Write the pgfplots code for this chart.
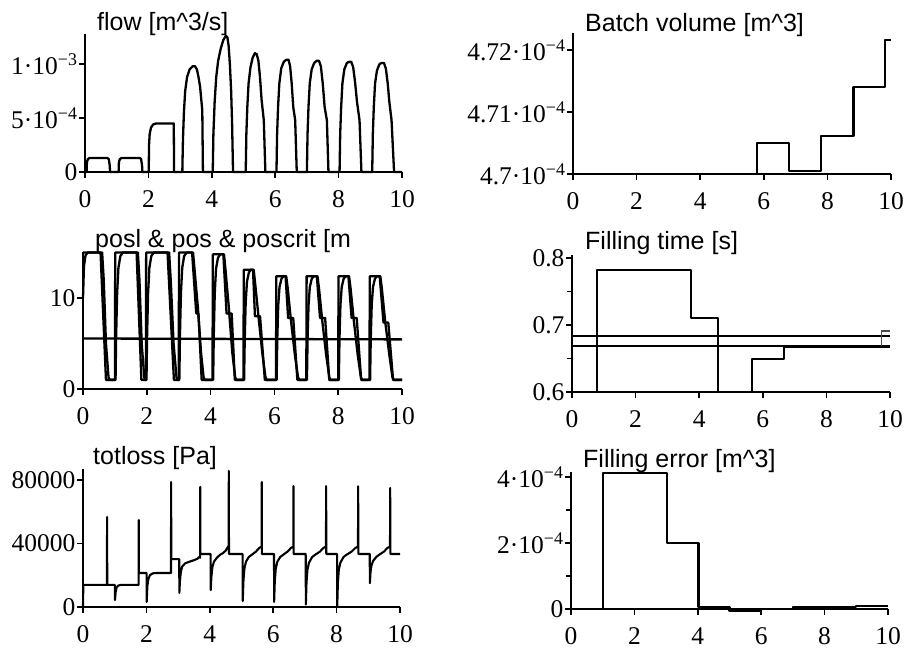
\documentclass[border=0pt]{standalone}
\usepackage{fontspec}
\setmainfont{Liberation Serif}
\newfontfamily\helv{Liberation Sans}
\usepackage{pgfplots}
\pgfplotsset{compat=1.18}
\newcommand{\tf}{\helv\fontsize{25}{25}\selectfont}
\newcommand{\ex}[1]{\textsuperscript{#1}}
\begin{document}
\begin{tikzpicture}
\useasboundingbox (0pt,0pt) rectangle (907pt,652pt);
\pgfplotsset{
 every axis/.append style={
  scale only axis, axis lines=left, axis line style={-, line width=1.6pt},
  clip=false, xmin=0, xmax=10, xtick={0,2,...,10},
  tick align=outside, major tick length=6pt, minor tick length=5pt,
  every tick/.style={black, line width=1.5pt},
  tick label style={font=\fontsize{25.5}{25.5}\selectfont},
  xticklabel style={yshift=-9pt},
  yticklabel style={xshift=2pt},
  /pgf/number format/assume math mode=true,
  scaled y ticks=false,
 },
 dat/.style={black, line width=2.3pt, line join=round, no markers},
}
% ---------------- flow
\begin{axis}[at={(85pt,480pt)}, anchor=south west, width=317pt, height=138.2pt,
  ymin=0, ymax=1.28e-3, ytick={0,5e-4,1e-3},
  yticklabels={0, 5·10\ex{−4}, 1·10\ex{−3}}]
\addplot[dat] coordinates {
(0,0) (0.05,0) (0.06,0.9e-4) (0.09,1.2e-4) (0.15,1.3e-4) (0.7,1.3e-4) (0.75,1.2e-4) (0.78,0.6e-4) (0.79,0)
(1.06,0) (1.07,0.9e-4) (1.1,1.2e-4) (1.16,1.3e-4) (1.72,1.3e-4) (1.77,1.2e-4) (1.8,0.6e-4) (1.81,0)
(2.01,0) (2.02,2.5e-4) (2.04,3.5e-4) (2.08,4.1e-4) (2.15,4.4e-4) (2.25,4.5e-4) (2.8,4.5e-4) (2.81,0)
(3.07,0) (3.09,3e-4) (3.12,5.5e-4) (3.16,7.5e-4) (3.22,8.8e-4) (3.3,9.5e-4) (3.4,9.8e-4) (3.47,9.8e-4) (3.53,9.5e-4) (3.58,8.8e-4) (3.63,7.9e-4) (3.70,5.7e-4) (3.72,0)
(4.03,0) (4.05,3.5e-4) (4.09,6.5e-4) (4.14,8.8e-4) (4.2,1.03e-3) (4.28,1.14e-3) (4.36,1.22e-3) (4.44,1.26e-3) (4.49,1.25e-3) (4.53,1.17e-3) (4.57,1.0e-3) (4.61,7.5e-4) (4.64,4.5e-4) (4.67,0)
(5.07,0) (5.09,3.5e-4) (5.12,6.0e-4) (5.16,8.2e-4) (5.22,9.7e-4) (5.29,1.06e-3) (5.36,1.10e-3) (5.42,1.09e-3) (5.47,1.03e-3) (5.52,8.8e-4) (5.57,6.7e-4) (5.64,4.8e-4) (5.69,0)
(6.04,0) (6.06,3.5e-4) (6.09,6.0e-4) (6.13,8.2e-4) (6.19,9.6e-4) (6.27,1.02e-3) (6.35,1.04e-3) (6.42,1.04e-3) (6.47,9.8e-4) (6.52,8.2e-4) (6.57,6.0e-4) (6.63,4.8e-4) (6.68,0)
(7.0,0) (7.02,3.5e-4) (7.05,6.0e-4) (7.09,8.2e-4) (7.15,9.5e-4) (7.23,1.01e-3) (7.31,1.03e-3) (7.38,1.03e-3) (7.44,9.8e-4) (7.5,8.2e-4) (7.56,6.0e-4) (7.63,4.8e-4) (7.68,0)
(8.03,0) (8.05,3.5e-4) (8.08,6.0e-4) (8.12,8.2e-4) (8.18,9.5e-4) (8.26,1.01e-3) (8.33,1.02e-3) (8.4,1.02e-3) (8.46,9.7e-4) (8.52,8.3e-4) (8.58,6.5e-4) (8.66,4.8e-4) (8.72,0)
(9.06,0) (9.08,3.5e-4) (9.11,6.0e-4) (9.15,8.2e-4) (9.21,9.4e-4) (9.29,1.0e-3) (9.36,1.01e-3) (9.43,1.01e-3) (9.49,9.6e-4) (9.55,8.2e-4) (9.6,6.5e-4) (9.67,4.8e-4) (9.75,0) (10,0)
};
\end{axis}
% ---------------- positions
\begin{axis}[at={(83pt,263pt)}, anchor=south west, width=319pt, height=137.4pt,
  ymin=0, ymax=15.1, ytick={0,10}, yticklabels={0,10}]
\addplot[dat] coordinates { % posl
(0,15) (0.55,15) (0.72,1) (1.0,1) (1.01,15) (1.68,15) (1.83,1) (1.97,1) (1.98,15) (2.65,15) (2.85,1) (3.0,1)
(3.01,15) (3.42,15) (3.55,8.3) (3.62,8.3) (3.72,1) (4.06,1) (4.07,14.8) (4.4,14.8) (4.5,8.3) (4.66,8.3) (4.76,1)
(5.03,1) (5.04,13.1) (5.33,13.1) (5.39,8.0) (5.55,8.0) (5.7,1) (6.05,1) (6.06,12.4) (6.35,12.4) (6.43,7.8) (6.59,7.8) (6.72,1)
(7.0,1) (7.01,12.4) (7.33,12.4) (7.43,7.8) (7.59,7.8) (7.72,1) (8.0,1) (8.01,12.4) (8.32,12.4) (8.42,7.8) (8.58,7.8) (8.72,1)
(8.98,1) (8.99,12.4) (9.3,12.4) (9.42,7.3) (9.57,7.3) (9.72,1) (10,1)
};
\addplot[dat] coordinates { % pos
(0,10) (0.03,13.5) (0.08,14.7) (0.15,15) (0.6,15) (0.65,12) (0.72,5) (0.8,1.3) (0.84,1) (1.02,1) (1.04,6) (1.07,10.5) (1.11,13.3) (1.17,14.6) (1.25,15)
(1.72,15) (1.77,12) (1.84,5) (1.92,1.3) (1.95,1) (1.99,1) (2.01,6) (2.04,10.5) (2.08,13.3) (2.14,14.6) (2.22,15)
(2.7,15) (2.75,12) (2.84,5) (2.93,1.3) (2.97,1) (3.02,1) (3.04,6) (3.07,10.5) (3.11,13.3) (3.17,14.6) (3.25,15)
(3.45,15) (3.5,13) (3.6,9) (3.7,4) (3.78,1.3) (3.82,1) (4.08,1) (4.1,6) (4.13,10.5) (4.17,13.2) (4.23,14.4) (4.3,14.8)
(4.42,14.8) (4.47,13) (4.57,9) (4.68,4) (4.77,1.3) (4.81,1) (5.05,1) (5.07,5.5) (5.1,9.5) (5.14,11.8) (5.2,12.8) (5.26,13.1)
(5.35,13.1) (5.4,11.5) (5.5,8) (5.62,4) (5.72,1.3) (5.76,1) (6.07,1) (6.09,5.5) (6.12,9.2) (6.16,11.2) (6.22,12.1) (6.28,12.4)
(6.37,12.4) (6.42,11) (6.52,7.5) (6.64,3.8) (6.74,1.3) (6.78,1) (7.02,1) (7.04,5.5) (7.07,9.2) (7.11,11.2) (7.17,12.1) (7.23,12.4)
(7.35,12.4) (7.4,11) (7.5,7.5) (7.62,3.8) (7.72,1.3) (7.76,1) (8.02,1) (8.04,5.5) (8.07,9.2) (8.11,11.2) (8.17,12.1) (8.23,12.4)
(8.34,12.4) (8.39,11) (8.49,7.5) (8.61,3.8) (8.71,1.3) (8.75,1) (9.0,1) (9.02,5.5) (9.05,9.2) (9.09,11.2) (9.15,12.1) (9.21,12.4)
(9.32,12.4) (9.37,11) (9.47,7.5) (9.6,3.8) (9.7,1.3) (9.74,1) (10,1)
};
\addplot[dat] coordinates { % poscrit
(0,5.55) (10,5.45)
};
\end{axis}
% ---------------- totloss
\begin{axis}[at={(83pt,45pt)}, anchor=south west, width=317pt, height=138.1pt,
  ymin=0, ymax=87000, ytick={0,40000,80000}, yticklabels={0,40000,80000}]
\addplot[dat, line width=2.1pt] coordinates {
(0,0) (0.01,13900) (0.755,13900) (0.76,56700) (0.765,13900) (1.005,13900) (1.01,4400) (1.03,9500) (1.06,12300) (1.11,13500) (1.2,13900)
(1.755,13900) (1.76,54800) (1.765,21400) (2.005,21400) (2.01,3200) (2.03,13000) (2.06,17500) (2.11,20000) (2.2,21200) (2.3,21400)
(2.775,21400) (2.78,78700) (2.785,30200) (3.035,30200) (3.04,8900) (3.06,17000) (3.09,22500) (3.13,25500) (3.22,27500) (3.35,28500) (3.5,29500) (3.62,30500) (3.66,31500) (3.695,31000)
(3.70,75600) (3.705,33400) (4.025,33400) (4.03,10700) (4.05,19000) (4.08,25000) (4.13,28500) (4.22,31000) (4.33,33000) (4.42,34000) (4.5,35500) (4.56,37500) (4.595,38500)
(4.60,85700) (4.605,33400) (5.035,33400) (5.04,3800) (5.06,16000) (5.09,24000) (5.14,28500) (5.23,31500) (5.33,33000) (5.46,35000) (5.56,37200) (5.635,38000)
(5.64,78700) (5.645,33400) (6.025,33400) (6.03,3200) (6.05,16000) (6.08,24000) (6.13,28500) (6.22,31500) (6.32,33000) (6.46,35000) (6.56,37200) (6.635,38000)
(6.64,76200) (6.645,33400) (7.025,33400) (7.03,1600) (7.05,15000) (7.08,23500) (7.13,28000) (7.23,31500) (7.33,33000) (7.48,35000) (7.58,37200) (7.665,38000)
(7.67,76200) (7.675,33400) (8.015,33400) (8.02,0) (8.04,15000) (8.07,23500) (8.12,28000) (8.22,31500) (8.32,33000) (8.48,35000) (8.59,37200) (8.675,38000)
(8.68,76000) (8.685,33400) (9.045,33400) (9.05,15000) (9.07,22000) (9.1,26000) (9.15,29000) (9.25,31500) (9.35,33000) (9.5,35000) (9.6,37200) (9.685,38000)
(9.69,75000) (9.695,33400) (10,33400)
};
\end{axis}
% ---------------- batch volume
\begin{axis}[at={(573pt,478pt)}, anchor=south west, width=318pt, height=140.7pt,
  ymin=4.7e-4, ymax=4.72274e-4, ytick={4.7e-4,4.71e-4,4.72e-4},
  yticklabels={4.7·10\ex{−4}, 4.71·10\ex{−4}, 4.72·10\ex{−4}}]
\addplot[dat] coordinates {
(0,4.7e-4) (5.78,4.7e-4) (5.78,4.70505e-4) (6.8,4.70505e-4) (6.8,4.70048e-4) (7.79,4.70048e-4) (7.79,4.70613e-4)
(8.82,4.70613e-4) (8.82,4.7141e-4) (9.81,4.7141e-4) (9.81,4.7217e-4) (10,4.7217e-4)
};
\end{axis}
% ---------------- filling time
\begin{axis}[at={(572pt,260pt)}, anchor=south west, width=318pt, height=137.35pt,
  ymin=0.6, ymax=0.805, ytick={0.6,0.7,0.8}, minor ytick={0.65,0.75},
  yticklabels={0.6,0.7,0.8}]
\addplot[dat] coordinates {
(0,0.6) (0.79,0.6) (0.79,0.782) (3.74,0.782) (3.74,0.71) (4.6,0.71) (4.6,0.6) (5.66,0.6) (5.66,0.649) (6.67,0.649) (6.67,0.668) (10,0.668)
};
\addplot[dat, line width=1.8pt] coordinates {(0,0.684) (10,0.684)};
\addplot[dat, line width=1.8pt] coordinates {(0,0.669) (10,0.669)};
\addplot[black!70, line width=1.4pt] coordinates {(10,0.691) (9.74,0.691) (9.74,0.669)};
\end{axis}
% ---------------- filling error
\begin{axis}[at={(571pt,43pt)}, anchor=south west, width=317pt, height=136.95pt,
  ymin=0, ymax=4.15e-4, ytick={0,2e-4,4e-4}, minor ytick={1e-4,3e-4},
  yticklabels={0, 2·10\ex{−4}, 4·10\ex{−4}}]
\addplot[dat] coordinates {
(0,0) (1.02,0) (1.02,4.12e-4) (3.02,4.12e-4) (3.02,2.0e-4) (4.02,2.0e-4) (4.02,0.05e-4) (5.0,0.05e-4) (5.0,-0.06e-4)
(6.0,-0.06e-4) (6.0,0.0) (7.0,0.0) (7.0,0.07e-4) (9.0,0.07e-4) (9.0,0.1e-4) (10,0.1e-4)
};
\end{axis}
% ---------------- titles
\node[anchor=base west, inner sep=0, font=\tf] at (97pt,621pt) {flow [m\textasciicircum 3/s]};
\node[anchor=base west, inner sep=0, font=\tf] at (95pt,404pt) {posl \& pos \& poscrit [m};
\node[anchor=base west, inner sep=0, font=\tf] at (93pt,187pt) {totloss [Pa]};
\node[anchor=base west, inner sep=0, font=\tf] at (585pt,620pt) {Batch volume [m\textasciicircum 3]};
\node[anchor=base west, inner sep=0, font=\tf] at (585pt,402pt) {Filling time [s]};
\node[anchor=base west, inner sep=0, font=\tf] at (583pt,184pt) {Filling error [m\textasciicircum 3]};
\end{tikzpicture}
\end{document}
